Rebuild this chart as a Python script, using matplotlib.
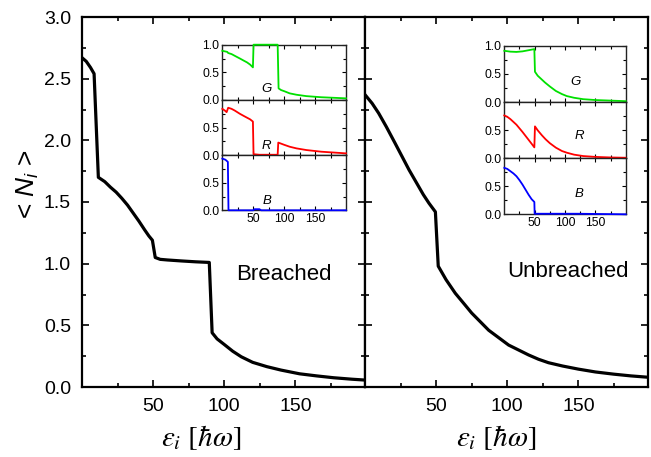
import matplotlib
matplotlib.use("Agg")
import matplotlib.pyplot as plt
from matplotlib.ticker import MultipleLocator, FixedLocator

plt.rcParams['font.family'] = ['Liberation Sans', 'DejaVu Sans']
plt.rcParams['mathtext.fontset'] = 'custom'
plt.rcParams['mathtext.rm'] = 'Liberation Sans'
plt.rcParams['mathtext.it'] = 'Liberation Sans:italic'

# ---------------- data ----------------
# Breached main curve
br_x = [0, 3, 6, 8.5, 11.5, 16, 20, 24, 28, 32, 36, 40, 44, 47, 49.5, 51.5, 55, 60, 70, 80, 89.5,
        91.5, 95, 100, 106, 112, 120, 130, 140, 153, 165, 177, 190, 198]
br_y = [2.67, 2.64, 2.59, 2.54, 1.70, 1.665, 1.62, 1.58, 1.53, 1.475, 1.41, 1.345, 1.275, 1.225, 1.19,
        1.05, 1.035, 1.03, 1.022, 1.015, 1.01,
        0.44, 0.39, 0.345, 0.29, 0.245, 0.20, 0.165, 0.137, 0.107, 0.09, 0.075, 0.063, 0.057]

# Unbreached main curve
ub_x = [0, 5, 9.6, 15, 21, 26, 31, 36, 41, 45, 49.5, 51.5, 57, 63.5, 70, 75, 81, 87, 94, 101, 108,
        115, 122, 129, 139, 150, 162, 175, 187, 198]
ub_y = [2.37, 2.30, 2.22, 2.11, 1.98, 1.87, 1.76, 1.66, 1.56, 1.49, 1.42, 0.98, 0.87, 0.76, 0.67, 0.60,
        0.53, 0.46, 0.40, 0.34, 0.30, 0.26, 0.225, 0.197, 0.17, 0.145, 0.122, 0.104, 0.09, 0.08]

# Breached insets
brG_x = [0, 8, 9.5, 15, 20, 28.5, 35, 40, 45, 49.5, 50.5, 89.5, 91, 95, 100, 109, 120, 136, 160, 180, 200]
brG_y = [0.89, 0.87, 0.85, 0.83, 0.80, 0.75, 0.71, 0.68, 0.64, 0.59, 1.0, 1.0, 0.21, 0.18, 0.16, 0.12,
         0.095, 0.07, 0.05, 0.04, 0.03]
brR_x = [0, 4, 7, 9.5, 15, 20, 28.5, 35, 40, 45, 49.5, 50.5, 60, 75, 89.5, 90.5, 100, 109, 120, 136,
         160, 180, 200]
brR_y = [0.84, 0.81, 0.78, 0.86, 0.84, 0.81, 0.75, 0.71, 0.68, 0.65, 0.61, 0.02, 0.01, 0.01, 0.01, 0.23,
         0.19, 0.155, 0.125, 0.095, 0.065, 0.05, 0.035]
brB_x = [0, 5, 9, 10, 50, 52, 60, 63, 200]
brB_y = [0.94, 0.92, 0.88, 0.0, 0.0, 0.02, 0.02, 0.0, 0.0]

# Unbreached insets
ubG_x = [0, 10, 20, 30, 40, 49.5, 50.5, 55, 60, 67, 75, 85, 95, 103, 115, 130, 150, 175, 200]
ubG_y = [0.91, 0.895, 0.89, 0.90, 0.92, 0.94, 0.54, 0.47, 0.42, 0.35, 0.28, 0.20, 0.145, 0.11, 0.08,
         0.055, 0.04, 0.03, 0.02]
ubR_x = [0, 5, 10, 15, 20, 25, 30, 35, 40, 45, 49.5, 50.5, 55, 62, 68, 75, 85, 95, 103, 115, 130,
         150, 175, 200]
ubR_y = [0.765, 0.74, 0.70, 0.65, 0.60, 0.535, 0.47, 0.40, 0.33, 0.26, 0.195, 0.57, 0.50, 0.41, 0.34,
         0.27, 0.19, 0.13, 0.10, 0.065, 0.04, 0.025, 0.015, 0.01]
ubB_x = [0, 5, 10, 15, 20, 25, 30, 35, 40, 45, 49.5, 50, 120, 200]
ubB_y = [0.83, 0.81, 0.77, 0.73, 0.68, 0.61, 0.53, 0.44, 0.35, 0.27, 0.22, 0.01, 0.01, 0.0]

main_yticks = [0.0, 0.5, 1.0, 1.5, 2.0, 2.5, 3.0]
main_xticks = [50, 100, 150]
inset_xticks = [50, 100, 150]

# ---------------- figure ----------------
W, H = 651, 457
fig = plt.figure(figsize=(W / 100, H / 100), dpi=100)


def px_axes(x0, y0, x1, y1):
    return fig.add_axes([x0 / W, 1 - y1 / H, (x1 - x0) / W, (y1 - y0) / H])


def style_main(ax, show_ylabels):
    ax.set_xlim(0, 199)
    ax.set_ylim(0, 3.0)
    ax.set_xticks(main_xticks)
    ax.xaxis.set_minor_locator(FixedLocator([25, 75, 125, 175]))
    ax.set_yticks(main_yticks)
    ax.yaxis.set_minor_locator(MultipleLocator(0.25))
    ax.tick_params(which='both', direction='in', top=True, right=True, width=1.2)
    ax.tick_params(which='major', length=5, labelsize=14, pad=8)
    ax.tick_params(which='minor', length=3)
    if not show_ylabels:
        ax.tick_params(labelleft=False)
    else:
        ax.set_yticklabels([f"{v:.1f}" for v in main_yticks])
    for s in ax.spines.values():
        s.set_linewidth(1.6)


axL = px_axes(82, 17, 365, 387)
axR = px_axes(365, 17, 648, 387)
style_main(axL, True)
style_main(axR, False)
axL.plot(br_x, br_y, color='black', lw=2.3)
axR.plot(ub_x, ub_y, color='black', lw=2.3)
axL.text(141.8, 0.91, 'Breached', fontsize=16, ha='center', va='center')
axR.text(142.6, 0.935, 'Unbreached', fontsize=16, ha='center', va='center')

fig.text(28 / W, 1 - 184 / H, r'< $N_i$ >', rotation=90, fontsize=19, ha='center', va='center',
         math_fontfamily='custom')
fig.text(201 / W, 1 - 438 / H, r'$\varepsilon_i\ [\hbar\omega]$', fontsize=21, ha='center', va='center',
         math_fontfamily='stix')
fig.text(496 / W, 1 - 438 / H, r'$\varepsilon_i\ [\hbar\omega]$', fontsize=21, ha='center', va='center',
         math_fontfamily='stix')


def inset_set(x0, x1, ys, data, letter_pos):
    colors = ['#00e000', '#ff0000', '#0000ff']
    letters = ['G', 'R', 'B']
    for k in range(3):
        ax = px_axes(x0, ys[k], x1, ys[k + 1])
        xs, yv = data[k]
        ax.plot(xs, yv, color=colors[k], lw=1.3, clip_on=False, zorder=5)
        ax.set_xlim(0, 200)
        ax.set_ylim(0, 1.0)
        ax.set_xticks(inset_xticks)
        ax.xaxis.set_minor_locator(FixedLocator([25, 75, 125, 175]))
        ax.set_yticks([0.0, 0.5, 1.0])
        ax.yaxis.set_minor_locator(FixedLocator([0.25, 0.75]))
        if k == 0:
            ax.set_yticklabels(['0.0', '0.5', '1.0'])
        else:
            ax.set_yticklabels(['0.0', '0.5', ''])
        ax.tick_params(which='both', direction='in', top=True, right=True, width=0.8,
                       labelsize=8.8, pad=2)
        ax.tick_params(which='major', length=3)
        ax.tick_params(which='minor', length=2)
        if k < 2:
            ax.tick_params(labelbottom=False)
        for s in ax.spines.values():
            s.set_linewidth(1.0)
            s.set_color('#222222')
        lx, ly = letter_pos[k]
        ax.text(lx, ly, letters[k], fontsize=9.5, fontstyle='italic', ha='center', va='center')


inset_set(222.3, 346, [44.7, 100, 155.3, 210.3],
          [(brG_x, brG_y), (brR_x, brR_y), (brB_x, brB_y)],
          [(72, 0.2), (72, 0.17), (72, 0.17)])
inset_set(504.3, 625.7, [45.7, 102.3, 158.3, 214.3],
          [(ubG_x, ubG_y), (ubR_x, ubR_y), (ubB_x, ubB_y)],
          [(118, 0.35), (123.5, 0.39), (123.5, 0.37)])

fig.savefig('out.png', dpi=100)
